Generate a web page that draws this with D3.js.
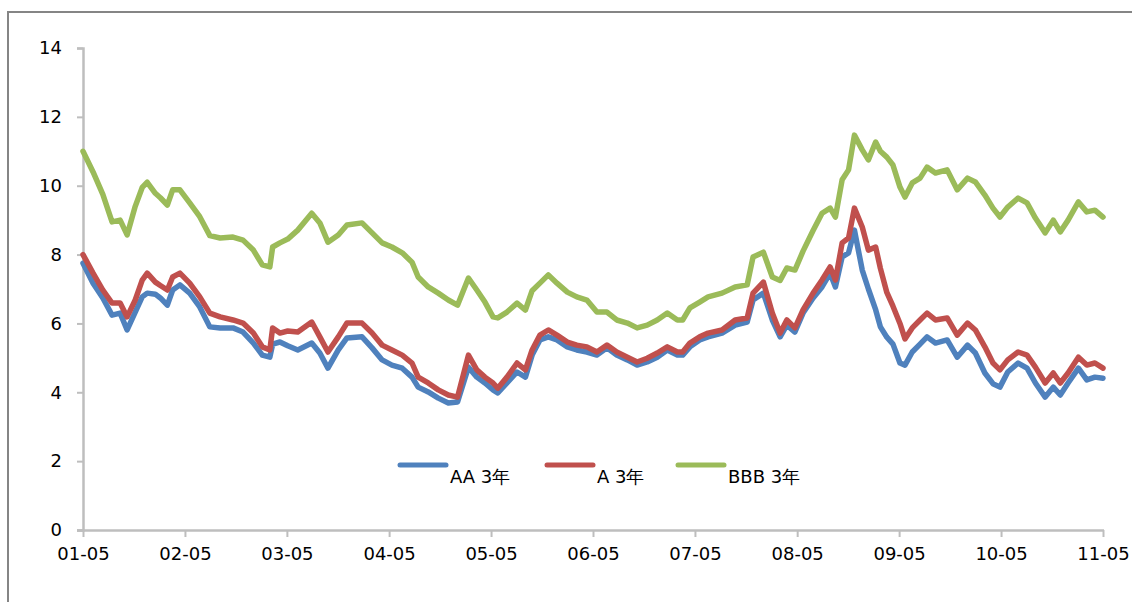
<!DOCTYPE html>
<html>
<head>
<meta charset="utf-8">
<script src="https://cdn.jsdelivr.net/npm/d3@7"></script>
<style>
  body { margin: 0; background: #fff; }
  svg { display: block; }
</style>
</head>
<body>
<div id="chart"></div>
<script>
// sample dates (roughly monthly plus turning points)
const dates = [
  "2001-05-01","2001-06-06","2001-07-11","2001-08-13","2001-09-11","2001-10-06","2001-11-04","2001-11-29",
  "2001-12-17","2002-01-15","2002-02-02","2002-02-27","2002-03-18","2002-04-13","2002-05-18","2002-06-23",
  "2002-07-29","2002-09-04","2002-10-20","2002-11-25","2003-01-01","2003-02-02","2003-03-01","2003-03-11",
  "2003-04-06","2003-05-04","2003-06-09","2003-07-29","2003-08-27","2003-09-25","2003-11-01","2003-12-02",
  "2004-01-25","2004-03-01","2004-04-06","2004-05-11","2004-06-17","2004-07-22","2004-08-13","2004-09-18",
  "2004-10-24","2004-11-29","2005-01-01","2005-02-09","2005-03-11","2005-04-09","2005-05-08","2005-05-25",
  "2005-06-27","2005-08-02","2005-09-01","2005-09-25","2005-10-23","2005-11-22","2005-12-23","2006-01-29",
  "2006-03-04","2006-04-09","2006-05-15","2006-06-20","2006-07-25","2006-09-01","2006-10-06","2006-11-11",
  "2006-12-17","2007-01-22","2007-02-27","2007-03-18","2007-04-13","2007-05-18","2007-06-17","2007-08-06",
  "2007-09-22","2007-11-04","2007-11-25","2008-01-01","2008-02-02","2008-03-01","2008-03-25","2008-04-23",
  "2008-05-22","2008-06-27","2008-07-29","2008-08-27","2008-09-15","2008-10-09","2008-11-01","2008-11-22",
  "2008-12-20","2009-01-11","2009-02-06","2009-02-23","2009-03-18","2009-04-09","2009-05-04","2009-05-22",
  "2009-06-17","2009-07-15","2009-08-09","2009-09-08","2009-10-20","2009-11-25","2010-01-01","2010-01-29",
  "2010-03-04","2010-04-02","2010-04-27","2010-05-25","2010-07-01","2010-08-02","2010-09-01","2010-10-06",
  "2010-11-04","2010-11-29","2010-12-27","2011-02-02","2011-03-04","2011-04-02","2011-05-01"
];

const aa3 = [
  7.75,7.17,6.74,6.24,6.30,5.81,6.33,6.77,
  6.88,6.85,6.74,6.53,6.97,7.12,6.88,6.48,
  5.90,5.87,5.87,5.75,5.43,5.08,5.02,5.40,
  5.46,5.35,5.23,5.43,5.14,4.70,5.23,5.58,
  5.61,5.29,4.94,4.79,4.70,4.44,4.15,4.01,
  3.83,3.69,3.72,4.73,4.44,4.27,4.07,3.98,
  4.27,4.59,4.44,5.08,5.52,5.61,5.52,5.32,
  5.23,5.17,5.08,5.29,5.08,4.94,4.79,4.88,
  5.02,5.23,5.08,5.08,5.32,5.52,5.61,5.72,
  5.95,6.04,6.68,6.88,6.10,5.61,5.95,5.75,
  6.30,6.74,7.06,7.46,7.06,7.93,8.05,8.71,
  7.55,7.00,6.40,5.90,5.60,5.40,4.85,4.79,
  5.17,5.40,5.61,5.43,5.52,5.02,5.37,5.14,
  4.56,4.25,4.15,4.59,4.85,4.70,4.27,3.86,
  4.15,3.92,4.27,4.70,4.36,4.44,4.41
];

const a3 = [
  8.00,7.46,6.97,6.59,6.59,6.19,6.68,7.26,
  7.46,7.20,7.10,6.97,7.35,7.46,7.17,6.77,
  6.30,6.19,6.10,6.01,5.72,5.32,5.23,5.87,
  5.72,5.78,5.75,6.04,5.61,5.17,5.61,6.01,
  6.01,5.72,5.37,5.23,5.08,4.85,4.44,4.27,
  4.07,3.92,3.86,5.08,4.65,4.44,4.27,4.12,
  4.44,4.85,4.65,5.23,5.66,5.81,5.66,5.46,
  5.37,5.32,5.17,5.37,5.17,5.02,4.88,4.99,
  5.14,5.32,5.17,5.17,5.43,5.61,5.72,5.81,
  6.10,6.16,6.88,7.20,6.30,5.72,6.10,5.87,
  6.39,6.88,7.26,7.64,7.26,8.34,8.48,9.35,
  8.80,8.13,8.22,7.60,6.90,6.50,6.00,5.55,
  5.87,6.10,6.30,6.10,6.16,5.66,6.01,5.81,
  5.32,4.85,4.65,4.94,5.17,5.08,4.73,4.27,
  4.56,4.27,4.56,5.02,4.79,4.85,4.70
];

const bbb3 = [
  11.00,10.40,9.75,8.95,9.00,8.57,9.40,9.95,
  10.10,9.78,9.65,9.44,9.88,9.88,9.50,9.10,
  8.55,8.48,8.51,8.42,8.13,7.70,7.64,8.22,
  8.34,8.45,8.71,9.20,8.92,8.36,8.57,8.86,
  8.92,8.63,8.34,8.22,8.05,7.78,7.35,7.06,
  6.88,6.68,6.53,7.32,6.97,6.62,6.19,6.16,
  6.33,6.59,6.39,6.95,7.17,7.41,7.17,6.91,
  6.77,6.68,6.33,6.33,6.10,6.01,5.87,5.95,
  6.10,6.30,6.10,6.10,6.45,6.62,6.77,6.88,
  7.06,7.12,7.93,8.07,7.35,7.25,7.61,7.55,
  8.10,8.70,9.20,9.35,9.09,10.17,10.46,11.47,
  11.04,10.75,11.27,11.00,10.83,10.60,9.96,9.67,
  10.08,10.22,10.54,10.37,10.46,9.88,10.22,10.11,
  9.73,9.35,9.09,9.38,9.64,9.50,9.06,8.63,
  9.00,8.66,9.00,9.53,9.24,9.29,9.09
];

const seriesNames = ["AA 3年", "A 3年", "BBB 3年"];
const seriesColors = ["#4F81BD", "#C0504D", "#9BBB59"];
const yTicks = [0, 2, 4, 6, 8, 10, 12, 14];
const xTickDates = ["2001-05-01","2002-05-01","2003-05-01","2004-05-01","2005-05-01","2006-05-01",
  "2007-05-01","2008-05-01","2009-05-01","2010-05-01","2011-05-01"];

const width = 1132;
const height = 602;
const marginLeft = 83;
const marginRight = 29;
const marginTop = 48;
const marginBottom = 72;

const parse = d3.timeParse("%Y-%m-%d");
const fmt = d3.timeFormat("%y-%m");

const svg = d3.select("#chart").append("svg")
  .attr("width", width)
  .attr("height", height);

// outer frame
svg.append("rect")
  .attr("x", 8).attr("y", 12)
  .attr("width", width + 20).attr("height", height + 20)
  .attr("fill", "none")
  .attr("stroke", "#858585")
  .attr("stroke-width", 2);

const x = d3.scaleTime()
  .domain([parse(dates[0]), parse(dates[dates.length - 1])])
  .range([marginLeft, width - marginRight]);
const y = d3.scaleLinear()
  .domain([0, 14])
  .range([height - marginBottom, marginTop]);

const axisColor = "#BEBEBE";
const font = "'DejaVu Sans', sans-serif";

const gy = svg.append("g")
  .attr("transform", `translate(${marginLeft},0)`)
  .call(d3.axisLeft(y).tickValues(yTicks).tickSize(6).tickPadding(15).tickFormat(d3.format("d")));
const gx = svg.append("g")
  .attr("transform", `translate(0,${height - marginBottom})`)
  .call(d3.axisBottom(x).tickValues(xTickDates.map(parse)).tickSize(7).tickPadding(10).tickFormat(fmt));

[gx, gy].forEach(g => {
  g.select(".domain").attr("stroke", axisColor).attr("stroke-width", 2.5);
  g.selectAll(".tick line").attr("stroke", axisColor).attr("stroke-width", 2);
  g.selectAll("text").attr("fill", "#000").style("font-family", font).style("font-size", "18px");
});
gx.select(".domain").attr("d", `M${marginLeft - 6},0.5H${width - marginRight + 1}`);

const allSeries = [aa3, a3, bbb3];
const line = d3.line()
  .x((d, i) => x(parse(dates[i])))
  .y(d => y(d));

svg.append("g").selectAll("path")
  .data(allSeries)
  .join("path")
  .attr("d", d => line(d))
  .attr("fill", "none")
  .attr("stroke", (d, i) => seriesColors[i])
  .attr("stroke-width", 5.5)
  .attr("stroke-linejoin", "round")
  .attr("stroke-linecap", "round");

// legend
const legendX = [400, 547, 678];
const legend = svg.append("g").selectAll("g")
  .data(seriesNames)
  .join("g")
  .attr("transform", (d, i) => `translate(${legendX[i]},465)`);
legend.append("line")
  .attr("x1", 0).attr("x2", 46)
  .attr("stroke", (d, i) => seriesColors[i])
  .attr("stroke-width", 5)
  .attr("stroke-linecap", "round");
legend.append("text")
  .attr("x", 50).attr("y", 18)
  .style("font-family", font)
  .style("font-size", "18px")
  .text(d => d);
</script>
</body>
</html>
